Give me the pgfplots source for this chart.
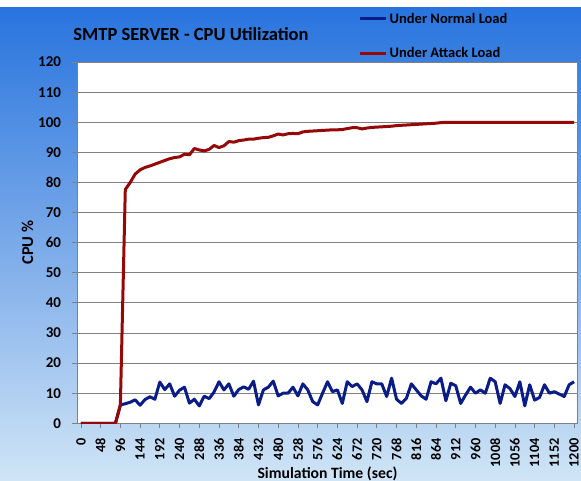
\documentclass[border=0pt]{standalone}
\usepackage{pgfplots}
\pgfplotsset{compat=1.18}
\usepackage{pgfplotstable}
\usepackage{fontspec}
\setmainfont{Carlito}
\definecolor{bgtop}{RGB}{40,116,222}
\definecolor{bgmid}{RGB}{122,170,233}
\definecolor{bgbot}{RGB}{208,229,246}
\definecolor{navy}{RGB}{10,28,135}
\definecolor{darkred}{RGB}{150,8,8}
\definecolor{gridgray}{RGB}{128,128,128}

\pgfplotstableread{
t n a
0 0 0
12 0 0
24 0 0
36 0 0
48 0 0
60 0 0
72 0 0
84 0 0
96 6.1 6.0
108 6.5 77.7
120 7.0 80.0
132 7.8 82.8
144 6.0 84.2
156 7.9 85.0
168 8.8 85.5
180 8.0 86.1
192 13.7 86.7
204 11.2 87.3
216 13.1 87.9
228 9.0 88.3
240 11.0 88.5
252 12.0 89.4
264 6.7 89.2
276 8.0 91.3
288 5.8 90.8
300 9.0 90.5
312 8.2 91.0
324 10.4 92.3
336 13.8 91.6
348 11.1 92.2
360 13.1 93.6
372 9.0 93.4
384 11.2 93.9
396 12.1 94.1
408 11.3 94.4
420 14.0 94.4
432 6.1 94.7
444 11.1 94.9
456 12.0 95.0
468 14.0 95.5
480 9.1 96.1
492 10.0 95.8
504 10.0 96.2
516 12.0 96.3
528 9.1 96.2
540 13.1 96.8
552 11.1 97.0
564 7.2 97.1
576 6.1 97.2
588 10.0 97.3
600 13.8 97.4
612 10.5 97.5
624 11.1 97.5
636 6.6 97.6
648 13.8 97.9
660 12.2 98.2
672 13.1 98.2
684 11.1 97.8
696 7.2 98.1
708 13.8 98.3
720 13.1 98.4
732 13.1 98.5
744 8.9 98.6
756 15.0 98.7
768 8.0 98.9
780 6.6 99.0
792 8.3 99.1
804 13.1 99.2
816 11.1 99.3
828 9.1 99.4
840 8.0 99.5
852 13.8 99.6
864 13.1 99.7
876 15.0 99.9
888 7.5 100
900 13.3 100
912 12.5 100
924 6.6 100
936 9.4 100
948 12.0 100
960 10.0 100
972 11.1 100
984 10.0 100
996 15.0 100
1008 13.8 100
1020 6.6 100
1032 12.8 100
1044 11.5 100
1056 8.9 100
1068 13.8 100
1080 5.8 100
1092 12.8 100
1104 7.7 100
1116 8.6 100
1128 12.8 100
1140 10.0 100
1152 10.5 100
1164 9.7 100
1176 8.9 100
1188 12.8 100
1200 13.8 100
}\cpudata

\begin{document}
\begin{tikzpicture}
\useasboundingbox (0pt,0pt) rectangle (581pt,481pt);
\fill[white] (0pt,0pt) rectangle (581pt,481pt);
\shade[top color=bgtop, bottom color=bgbot, middle color=bgmid] (0pt,0pt) rectangle (581pt,473pt);
\begin{axis}[
  at={(77.5pt,57.7pt)}, anchor=south west,
  scale only axis, width=500pt, height=361.2pt,
  xmin=-8.3, xmax=1208.3, ymin=0, ymax=120,
  axis background/.style={fill=white},
  axis line style={gridgray, line width=0.8pt},
  ymajorgrids, major grid style={gridgray, line width=0.8pt},
  ytick={0,10,...,120}, xtick={0,48,...,1200},
  tick pos=left, tick align=outside, major tick length=5pt,
  tick style={gridgray, line width=0.8pt},
  /pgf/number format/assume math mode=true,
  /pgf/number format/1000 sep={},
  scaled ticks=false,
  x tick label style={rotate=90, anchor=east, inner sep=0pt, xshift=-10pt, font=\bfseries\fontsize{14.2}{16}\selectfont},
  y tick label style={xshift=-8pt, font=\bfseries\fontsize{15}{17}\selectfont},
  xlabel={Simulation Time (sec)}, ylabel={CPU \%},
  xlabel style={at={(axis description cs:0.5,-0.139)}, anchor=center, inner sep=0pt, font=\bfseries\fontsize{15.7}{17}\selectfont},
  ylabel style={at={(axis description cs:-0.1,0.5)}, anchor=center, font=\bfseries\fontsize{16.5}{18}\selectfont},
  title={SMTP SERVER - CPU Utilization},
  title style={at={(axis description cs:0.227,1.061)}, anchor=center, font=\bfseries\fontsize{18.5}{20}\selectfont},
  legend style={at={(axis description cs:0.562,1.142)}, anchor=north west, draw=none, fill=none,
    font=\bfseries\fontsize{14.5}{16}\selectfont, row sep=19pt, inner sep=0pt},
  legend cell align=left,
  legend image code/.code={\draw[#1] (0pt,0pt) -- (26pt,0pt);},
]
\addplot[navy, line width=3pt, line join=round] table[x=t,y=n] {\cpudata};
\addlegendentry{Under Normal Load}
\addplot[darkred, line width=3pt, line join=round] table[x=t,y=a] {\cpudata};
\addlegendentry{Under Attack Load}
\end{axis}
\end{tikzpicture}
\end{document}
